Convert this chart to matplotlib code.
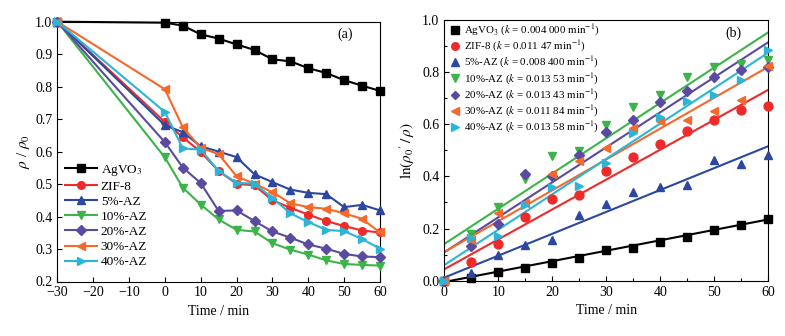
import numpy as np
import matplotlib
matplotlib.use("Agg")
import matplotlib.pyplot as plt

plt.rcParams['font.family'] = ['Liberation Serif', 'DejaVu Serif']
plt.rcParams['mathtext.fontset'] = 'stix'

# ---------------- data: panel (a) ----------------
time_a = [-30, 0, 5, 10, 15, 20, 25, 30, 35, 40, 45, 50, 55, 60]
agvo3_a = [1.0, 0.997, 0.988, 0.961, 0.948, 0.930, 0.913, 0.884, 0.878, 0.857, 0.842, 0.820, 0.803, 0.787]
zif8_a = [1.0, 0.691, 0.644, 0.599, 0.540, 0.501, 0.496, 0.450, 0.427, 0.406, 0.386, 0.371, 0.357, 0.351]
az5_a = [1.0, 0.681, 0.660, 0.616, 0.600, 0.583, 0.530, 0.506, 0.483, 0.473, 0.469, 0.429, 0.436, 0.419]
az10_a = [1.0, 0.582, 0.489, 0.437, 0.391, 0.359, 0.354, 0.318, 0.298, 0.283, 0.265, 0.254, 0.251, 0.249]
az20_a = [1.0, 0.629, 0.551, 0.503, 0.417, 0.419, 0.386, 0.354, 0.335, 0.314, 0.301, 0.285, 0.277, 0.275]
az30_a = [1.0, 0.792, 0.675, 0.612, 0.592, 0.524, 0.501, 0.475, 0.441, 0.429, 0.424, 0.410, 0.393, 0.351]
az40_a = [1.0, 0.722, 0.610, 0.606, 0.540, 0.504, 0.501, 0.457, 0.410, 0.383, 0.359, 0.355, 0.331, 0.301]

# ---------------- data: panel (b) ----------------
time_b = [0, 5, 10, 15, 20, 25, 30, 35, 40, 45, 50, 55, 60]
agvo3_b = [0, 0.009, 0.035, 0.048, 0.068, 0.086, 0.119, 0.126, 0.150, 0.168, 0.194, 0.214, 0.235]
zif8_b = [0, 0.073, 0.141, 0.243, 0.312, 0.330, 0.420, 0.473, 0.526, 0.574, 0.618, 0.654, 0.672]
az5_b = [0, 0.030, 0.098, 0.137, 0.155, 0.252, 0.296, 0.341, 0.360, 0.369, 0.462, 0.447, 0.484]
az10_b = [0, 0.179, 0.284, 0.392, 0.479, 0.499, 0.597, 0.666, 0.714, 0.782, 0.820, 0.830, 0.846]
az20_b = [0, 0.134, 0.217, 0.409, 0.401, 0.484, 0.569, 0.616, 0.686, 0.727, 0.782, 0.807, 0.820]
az30_b = [0, 0.156, 0.258, 0.297, 0.411, 0.460, 0.510, 0.585, 0.612, 0.615, 0.652, 0.692, 0.822]
az40_b = [0, 0.165, 0.173, 0.290, 0.358, 0.364, 0.452, 0.565, 0.628, 0.689, 0.712, 0.769, 0.884]

# rate constants (slopes) and intercepts of the fitted lines
k_vals = [0.004000, 0.01147, 0.008400, 0.01353, 0.01343, 0.01184, 0.01358]
k_text = ["0.004 000", "0.011 47", "0.008 400", "0.013 53", "0.013 43", "0.011 84", "0.013 58"]
intercepts = [-0.005, 0.044, 0.012, 0.141, 0.109, 0.110, 0.060]

names = ["AgVO$_3$", "ZIF-8", "5%-AZ", "10%-AZ", "20%-AZ", "30%-AZ", "40%-AZ"]
colors = ["#000000", "#ee2a2a", "#2b47a0", "#3cb44a", "#5a4aa0", "#f5692c", "#2cb5d6"]
markers = ["s", "o", "^", "v", "D", "<", ">"]

series_a = [agvo3_a, zif8_a, az5_a, az10_a, az20_a, az30_a, az40_a]
series_b = [agvo3_b, zif8_b, az5_b, az10_b, az20_b, az30_b, az40_b]

fig = plt.figure(figsize=(7.85, 3.36), dpi=100)
W, H = 785, 336
axa = fig.add_axes([57.3 / W, 1 - 281.5 / H, (380 - 57.3) / W, (281.5 - 21.7) / H])
axb = fig.add_axes([444.3 / W, 1 - 280.7 / H, (768.3 - 444.3) / W, (280.7 - 20) / H])

FS = 10
# ---- panel (a)
for ys, c, m, n in zip(series_a, colors, markers, names):
    ms = 4.6 if m == "D" else 5.5
    axa.plot(time_a, ys, color=c, marker=m, ms=ms, lw=1.5, label=n, clip_on=False, zorder=3)
axa.set_xlim(-30, 60)
axa.set_ylim(0.2, 1.0)
axa.set_xticks(np.arange(-30, 61, 10))
axa.set_yticks(np.arange(0.2, 1.01, 0.1))
axa.set_xticklabels([f"{v:d}".replace("-", "\u2212") for v in range(-30, 61, 10)])
axa.set_yticklabels([f"{v:.1f}" for v in np.arange(0.2, 1.01, 0.1)])
axa.tick_params(direction="in", labelsize=FS, length=3.5, width=0.8)
axa.set_xlabel("Time / min", fontsize=FS)
axa.set_ylabel(r"$\rho$ / $\rho_0$", fontsize=FS + 1, labelpad=2)
axa.text(0.892, 0.953, "(a)", transform=axa.transAxes, fontsize=FS, ha="center", va="center")
axa.legend(loc="lower left", bbox_to_anchor=(0.0, 0.02), frameon=False, fontsize=9.5,
           handlelength=2.4, handletextpad=0.3, labelspacing=0.22, borderaxespad=0.2)

# ---- panel (b)
tfit = np.array([0, 60])
for ys, c, m, n, k, kt, b in zip(series_b, colors, markers, names, k_vals, k_text, intercepts):
    ms = 5.2 if m == "D" else 6.4
    lab = n + r" ($k$ = " + kt + r" min$^{-1}$)"
    axb.plot(time_b, ys, linestyle="none", color=c, marker=m, ms=ms, label=lab, clip_on=False, zorder=3)
    axb.plot(tfit, k * tfit + b, color=c, lw=1.5, zorder=2)
axb.set_xlim(0, 60)
axb.set_ylim(0, 1.0)
axb.set_xticks(np.arange(0, 61, 10))
axb.set_xticks(np.arange(0, 61, 5), minor=True)
axb.set_yticks(np.arange(0, 1.01, 0.2))
axb.set_yticks(np.arange(0, 1.01, 0.1), minor=True)
axb.set_yticklabels([f"{v:.1f}" for v in np.arange(0, 1.01, 0.2)])
axb.tick_params(which="both", direction="in", labelsize=FS, width=0.8)
axb.tick_params(which="major", length=3.5)
axb.tick_params(which="minor", length=2)
axb.set_xlabel("Time / min", fontsize=FS)
axb.set_ylabel(r"$\mathrm{ln}(\rho_0{}'\,/\,\rho)$", fontsize=FS + 1, labelpad=4)
axb.text(0.891, 0.95, "(b)", transform=axb.transAxes, fontsize=FS, ha="center", va="center")
axb.legend(loc="upper left", bbox_to_anchor=(0.0, 1.015), frameon=False, fontsize=7.9,
           handlelength=0.8, handletextpad=0.4, labelspacing=0.08, borderaxespad=0.2,
           markerscale=0.85)

fig.savefig("out.png", dpi=100)
